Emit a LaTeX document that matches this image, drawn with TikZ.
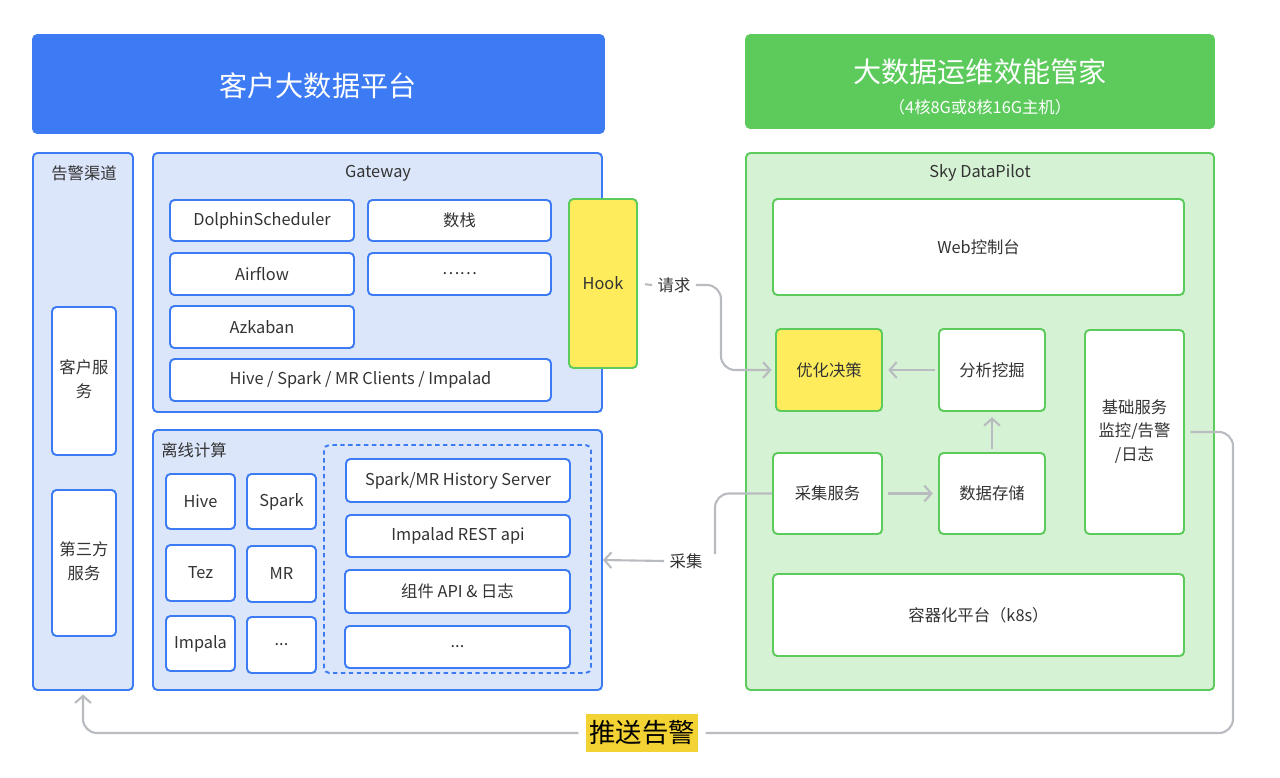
\documentclass[tikz,border=0pt]{standalone}
\usepackage{fontspec}
\setmainfont{Noto Sans CJK SC}
\usetikzlibrary{arrows.meta}

\definecolor{bluebd}{HTML}{3D7BF5}
\definecolor{bluebg}{HTML}{DCE6FB}
\definecolor{greenbd}{HTML}{5CCB5C}
\definecolor{greenbg}{HTML}{D6F2D4}
\definecolor{hookyel}{HTML}{FEEC5C}
\definecolor{pushyel}{HTML}{F3D234}
\definecolor{linegray}{HTML}{B8BBBF}
\definecolor{txtgray}{HTML}{333333}

\newcommand{\lines}[1]{\begin{tabular}{@{}c@{}}#1\end{tabular}}

\tikzset{
  bodyfont/.style={font=\fontsize{9.3}{13.5}\selectfont, text=txtgray},
  sz/.style 2 args={minimum width=#1*0.02cm, minimum height=#2*0.02cm},
  frame/.style={inner sep=0pt, rounded corners=2.5pt, line width=1.1pt},
  bluegrp/.style={frame, draw=bluebd, fill=bluebg},
  bluecell/.style={frame, draw=bluebd, fill=white, bodyfont},
  greengrp/.style={frame, draw=greenbd, fill=greenbg},
  greencell/.style={frame, draw=greenbd, fill=white, bodyfont},
  yelcell/.style={greencell, fill=hookyel},
  grptitle/.style={bodyfont, inner sep=0pt},
  bigtitle/.style={font=\fontsize{16}{20}\selectfont, text=white, inner sep=0pt},
  conn/.style={draw=linegray, line width=1.2pt, rounded corners=8pt},
  tip/.style={-{Straight Barb[length=4pt,width=9pt]}},
  connlabel/.style={bodyfont, fill=white, inner xsep=3pt, inner ysep=1pt},
}

\begin{document}
\begin{tikzpicture}[x={(0.02cm,0)}, y={(0,-0.02cm)}]
  \useasboundingbox (0,0) rectangle (1280,777);

  % titles
  \node[frame, draw=bluebd, fill=bluebd, sz={571}{98}] (custbar) at (318.5,84) {};
  \node[bigtitle] (custtitle) at (318,86) {客户大数据平台};
  \node[frame, draw=greenbd, fill=greenbd, sz={468}{93}] (opsbar) at (980,81.5) {};
  \node[bigtitle] (opstitle) at (980,72) {大数据运维效能管家};
  \node[font=\fontsize{9.3}{11}\selectfont, text=white, inner sep=0pt] (opssub) at (980,107) {（4核8G或8核16G主机）};

  % groups
  \node[bluegrp, sz={100}{537}] (alarm) at (83,421.5) {};
  \node[grptitle] (alarmtitle) at (84,173) {告警渠道};
  \node[bluegrp, sz={449}{259}] (gateway) at (377.5,282.5) {};
  \node[grptitle] (gwtitle) at (378,173) {Gateway};
  \node[bluegrp, sz={449}{260}] (offline) at (377.5,560) {};
  \node[grptitle, anchor=west] (offtitle) at (161,450) {离线计算};
  \node[greengrp, sz={468}{537}] (pilot) at (980,421.5) {};
  \node[grptitle] (pilottitle) at (980,173) {Sky DataPilot};

  % alarm channels
  \node[bluecell, sz={64}{148}] (custsvc) at (84,381) {\lines{客户服\\务}};
  \node[bluecell, sz={64}{146}] (thirdsvc) at (84,563) {\lines{第三方\\服务}};

  % gateway
  \node[bluecell, sz={184}{41}] (dolphin) at (262,220.5) {DolphinScheduler};
  \node[bluecell, sz={183}{41}] (shuzhan) at (459.5,220.5) {数栈};
  \node[bluecell, sz={184}{42}] (airflow) at (262,274) {Airflow};
  \node[bluecell, sz={183}{42}] (gwmore) at (459.5,274) {……};
  \node[bluecell, sz={184}{42}] (azkaban) at (262,327) {Azkaban};
  \node[bluecell, sz={381}{42}] (clients) at (360.5,380) {Hive / Spark / MR Clients / Impalad};
  \node[yelcell, sz={68}{169}] (hook) at (603,283.5) {Hook};

  % offline computing
  \node[bluecell, sz={69}{55}] (hive) at (200.5,501.5) {Hive};
  \node[bluecell, sz={69}{55}] (spark) at (281.5,501.5) {Spark};
  \node[bluecell, sz={69}{56}] (tez) at (200.5,573) {Tez};
  \node[bluecell, sz={69}{56}] (mr) at (281.5,574) {MR};
  \node[bluecell, sz={69}{55}] (impala) at (200.5,643.5) {Impala};
  \node[bluecell, sz={69}{56}] (offmore) at (281.5,645) {...};
  \draw[bluebd, line width=1.1pt, dash pattern=on 2.5pt off 2pt, rounded corners=3pt] (324,445) rectangle (591,673);
  \node[bluecell, sz={224}{43}] (history) at (458,480.5) {Spark/MR History Server};
  \node[bluecell, sz={224}{42}] (rest) at (458,536) {Impalad REST api};
  \node[bluecell, sz={225}{43}] (compapi) at (457.5,591.5) {组件 API \& 日志};
  \node[bluecell, sz={225}{42}] (apimore) at (457.5,647) {...};

  % sky datapilot
  \node[greencell, sz={411}{96}] (webui) at (978.5,247) {Web控制台};
  \node[yelcell, sz={106}{82}] (optim) at (829,370) {优化决策};
  \node[greencell, sz={106}{82}] (analyze) at (992,370) {分析挖掘};
  \node[greencell, sz={109}{81}] (collect) at (827.5,493.5) {采集服务};
  \node[greencell, sz={106}{81}] (store) at (992,493.5) {数据存储};
  \node[greencell, sz={99}{204}] (base) at (1134.5,432) {\lines{基础服务\\监控/告警\\/日志}};
  \node[greencell, sz={411}{82}] (k8s) at (978.5,615) {容器化平台（k8s）};

  % connectors
  \node[connlabel] (reqlbl) at (674,285) {请求};
  \draw[conn, shorten <=4pt] (hook.east) -- (reqlbl.west);
  \draw[conn, tip, shorten >=2pt] (reqlbl.east) -- ++(25,0) |- (optim.west);
  \draw[conn, tip, shorten <=2pt, shorten >=3pt] (analyze.west) -- (optim.east);
  \draw[conn, tip, shorten <=2pt, shorten >=3pt] (store.north) -- (analyze.south);
  \draw[conn, tip, shorten <=3pt, shorten >=3pt] (collect.east) -- (store.west);

  \coordinate (colbend) at (715,554);
  \node[connlabel] (collbl) at (686,561) {采集};
  \draw[conn] (collect.west) -| (colbend);
  \draw[conn, tip, shorten >=0pt] (collbl.west) -- (offline.east);

  \node[font=\fontsize{15}{18}\selectfont, text=black, fill=pushyel, inner xsep=2pt, minimum height=22pt] (pushlbl) at (642,733) {推送告警};
  \draw[conn, shorten <=3pt, shorten >=4pt] (base.east) -- ++(48,0) |- (pushlbl.east);
  \draw[conn, tip, shorten <=4pt, shorten >=2pt] (pushlbl.west) -| (alarm.south);
\end{tikzpicture}
\end{document}
